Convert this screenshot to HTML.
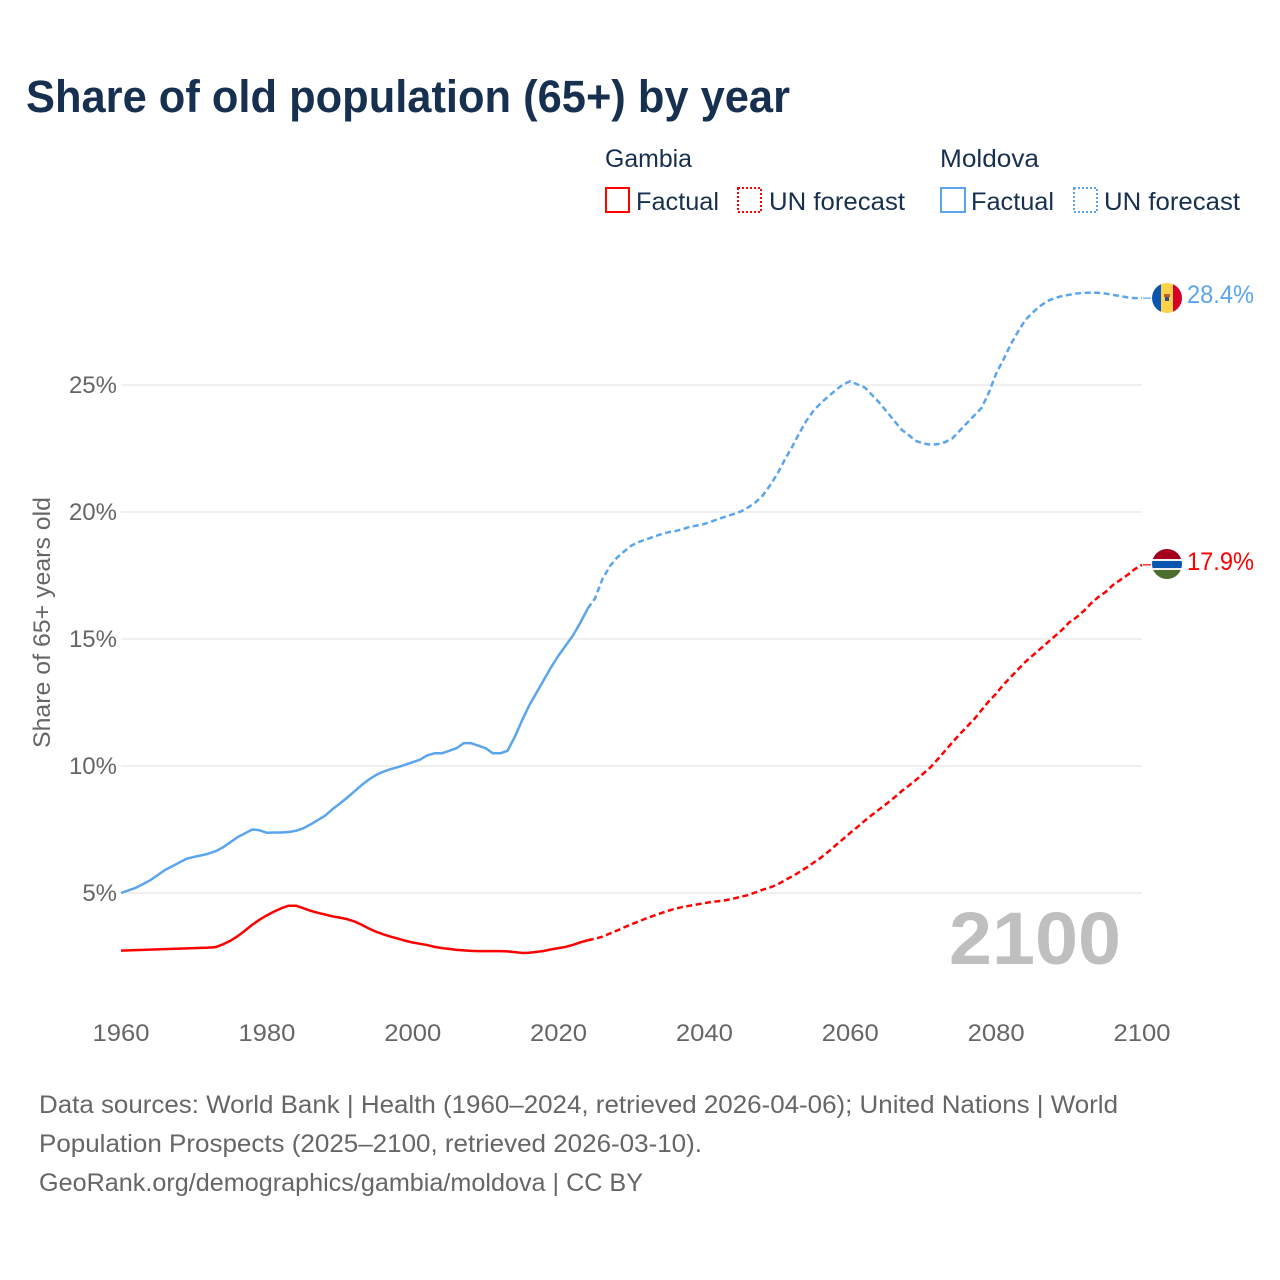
<!DOCTYPE html>
<html lang="en">
<head>
<meta charset="utf-8">
<title>Share of old population (65+) by year</title>
<style>
html,body{margin:0;padding:0;background:#fff;}
svg{display:block;font-family:"Liberation Sans",sans-serif;}
</style>
</head>
<body>
<svg id="chart" width="1280" height="1280" viewBox="0 0 1280 1280" xmlns="http://www.w3.org/2000/svg">
  <defs>
    <clipPath id="flag-clip-md"><circle cx="1167" cy="298" r="15"/></clipPath>
    <clipPath id="flag-clip-gm"><circle cx="1167" cy="564" r="15"/></clipPath>
  </defs>
  <rect width="1280" height="1280" fill="#fff"/>
  <text x="26" y="112" font-size="45" font-weight="700" fill="#17304f" textLength="764" lengthAdjust="spacingAndGlyphs">Share of old population (65+) by year</text>

  <g font-size="25" fill="#17304f">
    <text x="605" y="167" textLength="87" lengthAdjust="spacingAndGlyphs">Gambia</text>
    <text x="940" y="167" textLength="99" lengthAdjust="spacingAndGlyphs">Moldova</text>
    <g>
      <rect x="606" y="188" width="23" height="24" fill="none" stroke="#ff0000" stroke-width="2"/>
      <text x="636" y="210" textLength="83" lengthAdjust="spacingAndGlyphs">Factual</text>
    </g>
    <g>
      <rect x="738" y="188" width="23" height="24" fill="none" stroke="#ff0000" stroke-width="2" stroke-dasharray="2 2"/>
      <text x="769" y="210" textLength="136" lengthAdjust="spacingAndGlyphs">UN forecast</text>
    </g>
    <g>
      <rect x="941" y="188" width="24" height="24" fill="none" stroke="#5aa5ee" stroke-width="2"/>
      <text x="971" y="210" textLength="83" lengthAdjust="spacingAndGlyphs">Factual</text>
    </g>
    <g>
      <rect x="1074" y="188" width="23" height="24" fill="none" stroke="#5aa5ee" stroke-width="2" stroke-dasharray="2 2"/>
      <text x="1104" y="210" textLength="136" lengthAdjust="spacingAndGlyphs">UN forecast</text>
    </g>
  </g>

  <g id="grid"></g>
  <g id="yticks"></g>
  <g id="xticks"></g>
  <text transform="translate(50,748) rotate(-90)" font-size="24" fill="#666" textLength="251" lengthAdjust="spacingAndGlyphs">Share of 65+ years old</text>
  <text x="949" y="964" font-size="74" font-weight="700" fill="#bfbfbf" textLength="172" lengthAdjust="spacingAndGlyphs">2100</text>
  <g id="series"></g>

  <g clip-path="url(#flag-clip-md)">
    <rect x="1152" y="283" width="9" height="30" fill="#0a55b0"/>
    <rect x="1161" y="283" width="12" height="30" fill="#ffd24a"/>
    <rect x="1173" y="283" width="9" height="30" fill="#d80027"/>
    <rect x="1164" y="294" width="6" height="3" fill="#c0602a"/>
    <rect x="1165" y="297" width="4" height="4" fill="#2a4a9a"/>
  </g>
  <g clip-path="url(#flag-clip-gm)">
    <rect x="1152" y="549" width="30" height="10" fill="#a2001d"/>
    <rect x="1152" y="559" width="30" height="11" fill="#f0f0f0"/>
    <rect x="1152" y="561" width="30" height="7" fill="#0a55b0"/>
    <rect x="1152" y="570" width="30" height="9" fill="#496e2d"/>
  </g>
  <text id="label-md" x="1187" y="303" font-size="25" fill="#5aa5ee" textLength="67" lengthAdjust="spacingAndGlyphs"></text>
  <text id="label-gm" x="1187" y="570" font-size="25" fill="#ff0000" textLength="67" lengthAdjust="spacingAndGlyphs"></text>

  <g font-size="25" fill="#666">
    <text x="39" y="1113" textLength="1079" lengthAdjust="spacingAndGlyphs">Data sources: World Bank | Health (1960–2024, retrieved 2026-04-06); United Nations | World</text>
    <text x="39" y="1152" textLength="663" lengthAdjust="spacingAndGlyphs">Population Prospects (2025–2100, retrieved 2026-03-10).</text>
    <text x="39" y="1191" textLength="604" lengthAdjust="spacingAndGlyphs">GeoRank.org/demographics/gambia/moldova | CC BY</text>
  </g>
</svg>
<script>
const xTicks = [1960, 1980, 2000, 2020, 2040, 2060, 2080, 2100];
const yTicks = [5, 10, 15, 20, 25];
const factualStartYear = 1960;
const forecastStartYear = 2024;
const moldovaFactual = [5.0,5.1,5.2,5.35,5.5,5.7,5.9,6.05,6.2,6.35,6.42,6.48,6.55,6.65,6.8,7.0,7.2,7.35,7.5,7.47,7.37,7.38,7.38,7.4,7.45,7.55,7.7,7.87,8.05,8.3,8.52,8.75,9.0,9.25,9.47,9.65,9.78,9.88,9.96,10.05,10.15,10.25,10.42,10.5,10.5,10.6,10.7,10.9,10.9,10.8,10.7,10.5,10.5,10.6,11.15,11.8,12.4,12.9,13.4,13.9,14.35,14.75,15.15,15.65,16.2];
const moldovaForecast = [16.2,16.6,17.35,17.85,18.2,18.45,18.68,18.82,18.92,19.02,19.12,19.2,19.25,19.32,19.42,19.47,19.53,19.63,19.73,19.83,19.92,20.02,20.18,20.38,20.65,21.05,21.5,22.05,22.55,23.1,23.6,24.0,24.3,24.55,24.8,25.02,25.15,25.02,24.9,24.6,24.3,23.95,23.6,23.25,23.03,22.8,22.7,22.65,22.67,22.75,22.9,23.2,23.5,23.8,24.1,24.7,25.45,26.0,26.6,27.1,27.56,27.85,28.1,28.3,28.42,28.5,28.55,28.6,28.63,28.63,28.63,28.6,28.55,28.5,28.45,28.42,28.42];
const gambiaFactual = [2.73,2.74,2.75,2.76,2.77,2.78,2.79,2.8,2.81,2.82,2.83,2.84,2.85,2.87,2.98,3.12,3.3,3.52,3.75,3.95,4.12,4.27,4.4,4.5,4.5,4.4,4.3,4.22,4.15,4.08,4.03,3.97,3.88,3.75,3.6,3.47,3.37,3.28,3.2,3.12,3.05,3.0,2.95,2.88,2.83,2.8,2.76,2.74,2.72,2.71,2.71,2.71,2.71,2.7,2.67,2.64,2.65,2.68,2.72,2.78,2.83,2.88,2.96,3.06,3.14];
const gambiaForecast = [3.14,3.2,3.28,3.4,3.52,3.65,3.77,3.88,4.0,4.1,4.2,4.3,4.38,4.45,4.5,4.55,4.6,4.65,4.68,4.72,4.78,4.85,4.92,5.02,5.13,5.22,5.33,5.5,5.65,5.82,6.0,6.2,6.4,6.63,6.88,7.12,7.37,7.6,7.85,8.08,8.3,8.52,8.75,9.0,9.22,9.45,9.7,9.95,10.27,10.6,10.93,11.25,11.55,11.85,12.2,12.55,12.85,13.2,13.5,13.8,14.1,14.35,14.6,14.85,15.1,15.35,15.65,15.85,16.1,16.4,16.65,16.85,17.12,17.32,17.52,17.75,17.92];
const moldovaEndLabel = "28.4%";
const gambiaEndLabel = "17.9%";

const SVGNS = "http://www.w3.org/2000/svg";
const xScale = function (year) { return 121 + (year - 1960) * (1142 - 121) / 140; };
const yScale = function (v) { return 893 - (v - 5) * 25.4; };

const grid = document.getElementById("grid");
const yG = document.getElementById("yticks");
const xG = document.getElementById("xticks");
const seriesG = document.getElementById("series");

yTicks.forEach(function (v) {
  const line = document.createElementNS(SVGNS, "line");
  
  
  line.setAttribute("x1", xScale(1960));
  line.setAttribute("x2", xScale(2100));
  line.setAttribute("y1", yScale(v));
  line.setAttribute("y2", yScale(v));
  line.setAttribute("stroke", "#ececec");
  line.setAttribute("stroke-width", "1.5");
  grid.appendChild(line);

  const t = document.createElementNS(SVGNS, "text");
  
  
  t.setAttribute("x", 117);
  t.setAttribute("y", yScale(v) + 8);
  t.setAttribute("text-anchor", "end");
  t.setAttribute("font-size", "24");
  t.setAttribute("fill", "#666");
  t.textContent = v + "%";
  yG.appendChild(t);
});

xTicks.forEach(function (year) {
  const t = document.createElementNS(SVGNS, "text");
  
  
  t.setAttribute("x", xScale(year));
  t.setAttribute("y", 1041);
  t.setAttribute("text-anchor", "middle");
  t.setAttribute("font-size", "24");
  t.setAttribute("fill", "#666");
  t.setAttribute("textLength", "57");
  t.setAttribute("lengthAdjust", "spacingAndGlyphs");
  t.textContent = year;
  xG.appendChild(t);
});

function pathFor(values, startYear) {
  return values.map(function (v, i) {
    return (i ? "L" : "M") + xScale(startYear + i).toFixed(2) + " " + yScale(v).toFixed(2);
  }).join(" ");
}

const gFact = document.createElementNS(SVGNS, "path");


gFact.setAttribute("d", pathFor(gambiaFactual, factualStartYear));
gFact.setAttribute("fill", "none");
gFact.setAttribute("stroke", "#ff0000");
gFact.setAttribute("stroke-width", "2.5");
gFact.setAttribute("stroke-linejoin", "round");
seriesG.appendChild(gFact);

const gFore = document.createElementNS(SVGNS, "path");


gFore.setAttribute("d", pathFor(gambiaForecast, forecastStartYear));
gFore.setAttribute("fill", "none");
gFore.setAttribute("stroke", "#ff0000");
gFore.setAttribute("stroke-width", "2.5");
gFore.setAttribute("stroke-dasharray", "6 3.5");
seriesG.appendChild(gFore);

const mFact = document.createElementNS(SVGNS, "path");


mFact.setAttribute("d", pathFor(moldovaFactual, factualStartYear));
mFact.setAttribute("fill", "none");
mFact.setAttribute("stroke", "#5aa5ee");
mFact.setAttribute("stroke-width", "2.5");
mFact.setAttribute("stroke-linejoin", "round");
seriesG.appendChild(mFact);

const mFore = document.createElementNS(SVGNS, "path");


mFore.setAttribute("d", pathFor(moldovaForecast, forecastStartYear));
mFore.setAttribute("fill", "none");
mFore.setAttribute("stroke", "#5aa5ee");
mFore.setAttribute("stroke-width", "2.5");
mFore.setAttribute("stroke-dasharray", "6 3.5");
seriesG.appendChild(mFore);

const gLead = document.createElementNS(SVGNS, "line");


gLead.setAttribute("x1", xScale(2100) + 1);
gLead.setAttribute("x2", xScale(2100) + 9);
gLead.setAttribute("y1", yScale(gambiaForecast[gambiaForecast.length - 1]));
gLead.setAttribute("y2", yScale(gambiaForecast[gambiaForecast.length - 1]));
gLead.setAttribute("stroke", "#ff0000");
gLead.setAttribute("stroke-width", "1.2");
seriesG.appendChild(gLead);

const mLead = document.createElementNS(SVGNS, "line");


mLead.setAttribute("x1", xScale(2100) + 1);
mLead.setAttribute("x2", xScale(2100) + 9);
mLead.setAttribute("y1", yScale(moldovaForecast[moldovaForecast.length - 1]));
mLead.setAttribute("y2", yScale(moldovaForecast[moldovaForecast.length - 1]));
mLead.setAttribute("stroke", "#5aa5ee");
mLead.setAttribute("stroke-width", "1.2");
seriesG.appendChild(mLead);

document.getElementById("label-md").textContent = moldovaEndLabel;
document.getElementById("label-gm").textContent = gambiaEndLabel;
</script>
</body>
</html>
